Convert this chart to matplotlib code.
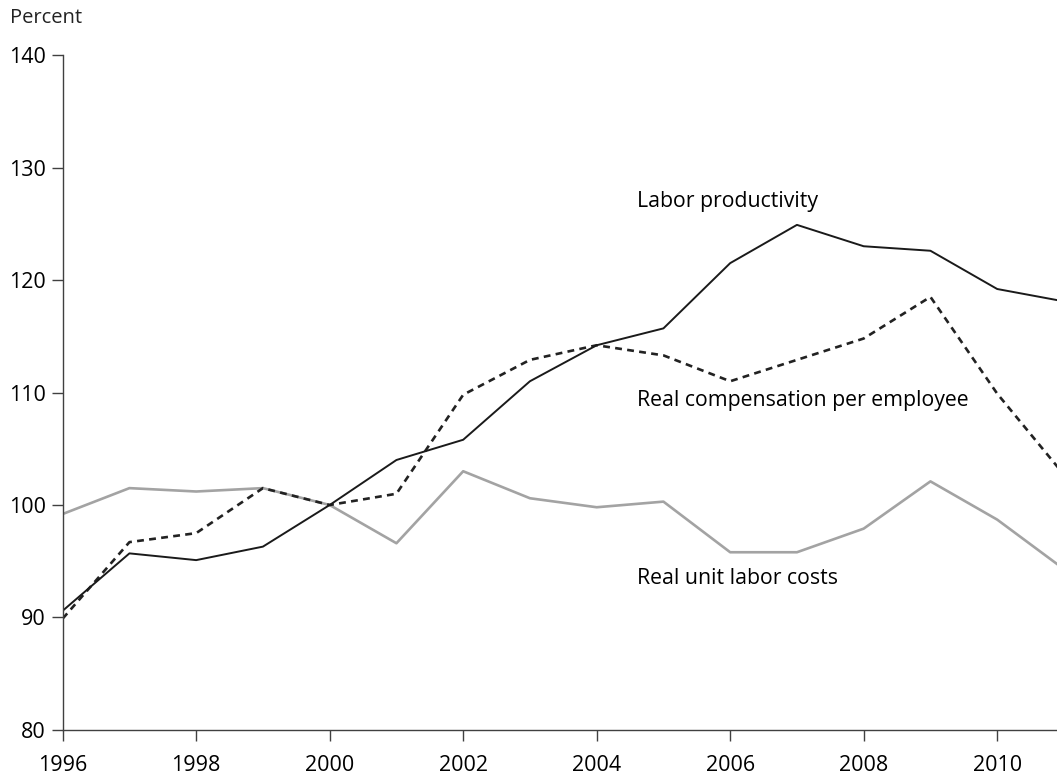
import matplotlib
matplotlib.use("Agg")
import matplotlib.pyplot as plt

plt.rcParams['font.family'] = ['Open Sans', 'DejaVu Sans']

years = list(range(1996, 2012))
productivity = [90.6, 95.7, 95.1, 96.3, 100.0, 104.0, 105.8, 111.0, 114.2, 115.7,
                121.5, 124.9, 123.0, 122.6, 119.2, 118.1]
compensation = [89.9, 96.7, 97.5, 101.5, 100.0, 101.0, 109.8, 112.9, 114.2, 113.3,
                111.0, 112.9, 114.8, 118.5, 109.9, 102.7]
unit_labor = [99.2, 101.5, 101.2, 101.5, 100.0, 96.6, 103.0, 100.6, 99.8, 100.3,
              95.8, 95.8, 97.9, 102.1, 98.7, 94.3]

xticks = [1996, 1998, 2000, 2002, 2004, 2006, 2008, 2010]
yticks = [80, 90, 100, 110, 120, 130, 140]

fig = plt.figure(figsize=(10.57, 7.78), dpi=100)
ax = fig.add_axes([0.0593, 0.0617, 0.9407, 0.8676])

ax.plot(years, unit_labor, color='#a3a3a3', lw=1.9)
ax.plot(years, compensation, color='#222222', lw=1.9, linestyle=(0, (2.6, 2.0)))
ax.plot(years, productivity, color='#1a1a1a', lw=1.4)

ax.set_xlim(1996, 2010.896)
ax.set_ylim(80, 140)
ax.set_xticks(xticks)
ax.set_yticks(yticks)

for s in ['top', 'right']:
    ax.spines[s].set_visible(False)
for s in ['left', 'bottom']:
    ax.spines[s].set_color('#404040')
    ax.spines[s].set_linewidth(1.0)

ax.tick_params(axis='both', direction='out', length=8, width=1.0,
               color='#404040', labelsize=15.5, labelcolor='#000000')
ax.tick_params(axis='x', pad=10)
ax.tick_params(axis='y', pad=4)

fs = 15.3
ax.text(2004.6, 127.0, 'Labor productivity', fontsize=fs, va='center', color='#000000')
ax.text(2004.6, 109.3, 'Real compensation per employee', fontsize=fs, va='center', color='#000000')
ax.text(2004.6, 93.5, 'Real unit labor costs', fontsize=fs, va='center', color='#000000')

fig.text(10 / 1057, 1 - 18 / 778, 'Percent', fontsize=14.5, va='center', ha='left', color='#222222')

fig.savefig('out.png', dpi=100)
